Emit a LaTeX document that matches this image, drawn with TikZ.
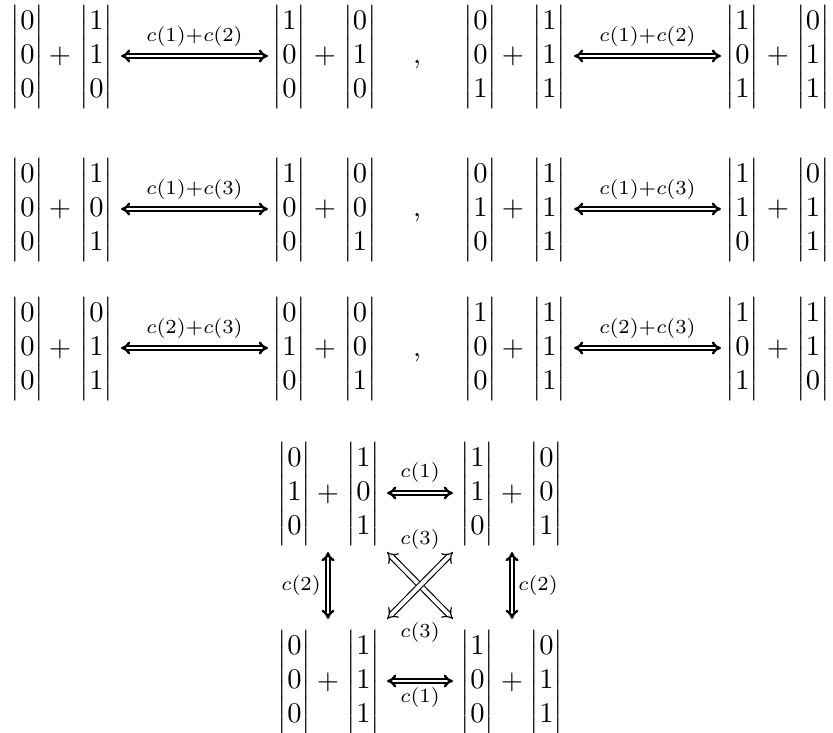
\documentclass[tikz,border=0pt]{standalone}
\usepackage{amsmath}
\usetikzlibrary{arrows.meta}
\newcommand{\vm}[3]{$\begin{vmatrix}#1\\#2\\#3\end{vmatrix}$}
\tikzset{
  mat/.style={anchor=base, inner sep=0pt, outer sep=0pt},
  lab/.style={anchor=base, inner sep=0pt},
  dbl/.style={double, double distance=0.55pt, line width=0.85pt, {Implies[scale=1.25]}-{Implies[scale=1.25]}},
  thindbl/.style={double, double distance=1.4pt, line width=0.4pt, {Implies[scale=1.5]}-{Implies[scale=1.5]}},
}
% #1 name, #2 mid y, #3 x offset, #4..#7 matrices, #8 label
\newcommand{\grp}[8]{%
  \begin{scope}[shift={(#3,0)}]
    \node[mat] (#1a) at (27.5,#2+9) {\vm#4};
    \node[mat] (#1p) at (60,#2+9) {$+$};
    \node[mat] (#1b) at (96.5,#2+9) {\vm#5};
    \coordinate (#1l) at (121,#2+1);
    \coordinate (#1r) at (268,#2+1);
    \node[mat] (#1c) at (289.5,#2+9) {\vm#6};
    \node[mat] (#1q) at (325,#2+9) {$+$};
    \node[mat] (#1d) at (360,#2+9) {\vm#7};
    \draw[dbl] (#1l) -- (#1r);
    \node[lab] (#1t) at (194.5,#2-13) {$\scriptstyle #8$};
  \end{scope}}
\begin{document}
\begin{tikzpicture}[x=0.3509pt,y=-0.3509pt]
\useasboundingbox (0,0) rectangle (833,733);
% row 1
\grp{ra}{55}{0}{{0}{0}{0}}{{1}{1}{0}}{{1}{0}{0}}{{0}{1}{0}}{c(1)+c(2)}
\node[mat] (ca) at (417,64) {,};
\grp{rb}{55}{453}{{0}{0}{1}}{{1}{1}{1}}{{1}{0}{1}}{{0}{1}{1}}{c(1)+c(2)}
% row 2
\grp{rc}{208}{0}{{0}{0}{0}}{{1}{0}{1}}{{1}{0}{0}}{{0}{0}{1}}{c(1)+c(3)}
\node[mat] (cb) at (417,217) {,};
\grp{rd}{208}{453}{{0}{1}{0}}{{1}{1}{1}}{{1}{1}{0}}{{0}{1}{1}}{c(1)+c(3)}
% row 3
\grp{re}{347}{0}{{0}{0}{0}}{{0}{1}{1}}{{0}{1}{0}}{{0}{0}{1}}{c(2)+c(3)}
\node[mat] (cc) at (417,356) {,};
\grp{rf}{347}{453}{{1}{0}{0}}{{1}{1}{1}}{{1}{0}{1}}{{1}{1}{0}}{c(2)+c(3)}
% bottom square
\node[mat] (ta) at (294.5,501) {\vm{0}{1}{0}};
\node[mat] (tp) at (328,501) {$+$};
\node[mat] (tb) at (363.5,501) {\vm{1}{0}{1}};
\node[mat] (tc) at (477.5,501) {\vm{1}{1}{0}};
\node[mat] (tq) at (512,501) {$+$};
\node[mat] (td) at (546.5,501) {\vm{0}{0}{1}};
\node[mat] (ba) at (294.5,689) {\vm{0}{0}{0}};
\node[mat] (bp) at (328,689) {$+$};
\node[mat] (bb) at (363.5,689) {\vm{1}{1}{1}};
\node[mat] (bc) at (477.5,689) {\vm{1}{0}{0}};
\node[mat] (bq) at (512,689) {$+$};
\node[mat] (bd) at (546.5,689) {\vm{0}{1}{1}};
\coordinate (htl) at (387,493);
\coordinate (htr) at (453,493);
\coordinate (hbl) at (387,681);
\coordinate (hbr) at (453,681);
\coordinate (vlt) at (328,552);
\coordinate (vlb) at (328,619);
\coordinate (vrt) at (512,552);
\coordinate (vrb) at (512,619);
\coordinate (dtl) at (387,552);
\coordinate (dtr) at (453,552);
\coordinate (dbl) at (387,619);
\coordinate (dbr) at (453,619);
\draw[dbl] (htl) -- (htr);
\draw[dbl] (hbl) -- (hbr);
\draw[dbl] (vlt) -- (vlb);
\draw[dbl] (vrt) -- (vrb);
\draw[thindbl] (dtl) -- (dbr);
\draw[thindbl] (dtr) -- (dbl);
\node[lab] (l1) at (420,477) {$\scriptstyle c(1)$};
\node[lab] (l2) at (420,702) {$\scriptstyle c(1)$};
\node[lab] (l3) at (420,544) {$\scriptstyle c(3)$};
\node[lab] (l4) at (420,637) {$\scriptstyle c(3)$};
\node[lab] (l5) at (301,590) {$\scriptstyle c(2)$};
\node[lab] (l6) at (538,590) {$\scriptstyle c(2)$};
\end{tikzpicture}
\end{document}
